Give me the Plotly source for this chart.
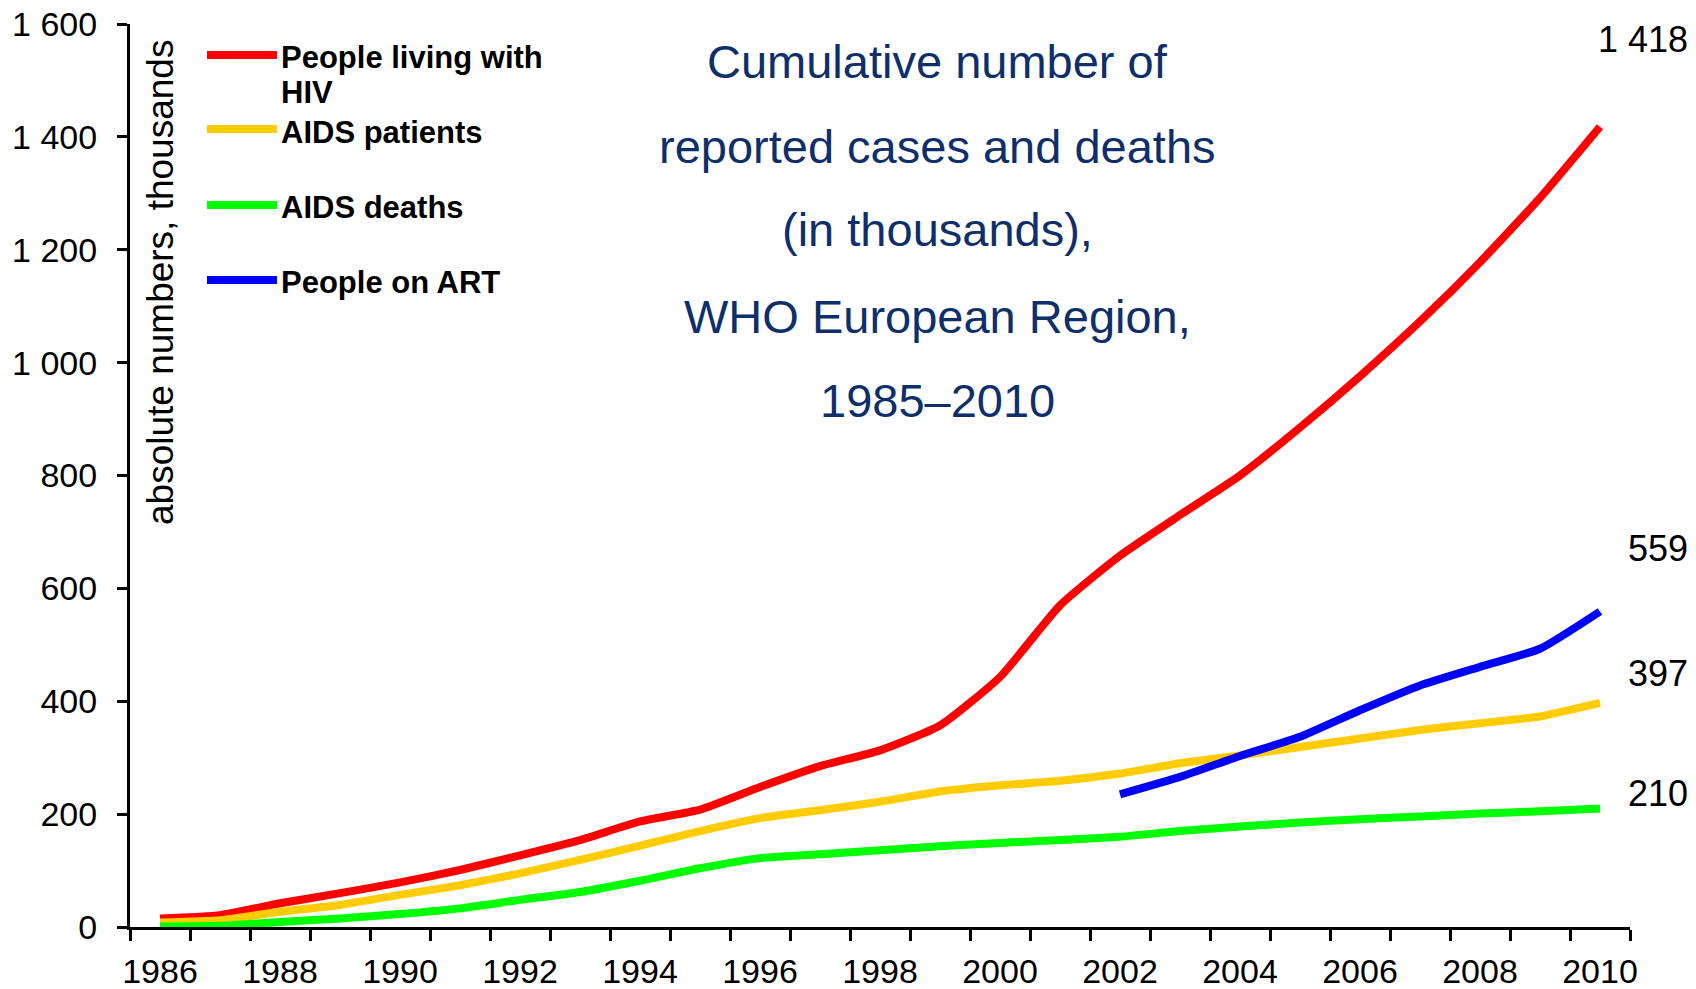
import plotly.graph_objects as go

# ---------------- data ----------------
years = list(range(1986, 2011))
hiv = [15, 21, 42, 60, 79, 101, 127, 154, 187, 208, 248, 285, 313, 357, 443,
       570, 658, 730, 800, 885, 976, 1073, 1178, 1292, 1418]
aids_patients = [8, 12, 27, 39, 57, 74, 95, 119, 144, 170, 193, 207, 222, 240, 251,
                 259, 272, 290, 304, 319, 334, 349, 361, 373, 397]
aids_deaths = [1, 2, 9, 15, 23, 33, 48, 62, 82, 104, 122, 129, 136, 143, 149,
               154, 160, 170, 178, 185, 191, 196, 201, 205, 210]
art_years = list(range(2002, 2011))
art = [235, 266, 303, 337, 384, 428, 461, 493, 559]

series_names = ["People living with HIV", "AIDS patients", "AIDS deaths", "People on ART"]
legend_labels = ["People living with<br>HIV", "AIDS patients", "AIDS deaths", "People on ART"]
colors = ["#FF0000", "#FFCC00", "#00FF00", "#0000FF"]

x_tick_years = [y for y in years if y % 2 == 0]
y_ticks = list(range(0, 1601, 200))
title_lines = ["Cumulative number of", "reported cases and deaths", "(in thousands),",
               "WHO European Region,", "1985\u20132010"]
y_title = "absolute numbers, thousands"

FONT = "Liberation Sans, Arial, Helvetica, sans-serif"
W, H = 1696, 989
L, R, T, B = 130, 1630, 24, 927  # plot area in pixels


def px(x):
    return (x - L) / (R - L)


def py(y):
    return (B - y) / (B - T)


def fmt(v):
    return f"{v:,}".replace(",", " ")


fig = go.Figure()
all_x = [years, years, years, art_years]
all_y = [hiv, aids_patients, aids_deaths, art]
for name, xs, ys, c in zip(series_names, all_x, all_y, colors):
    fig.add_trace(go.Scatter(x=xs, y=ys, name=name, mode="lines",
                             line=dict(color=c, width=8, shape="spline", smoothing=0.5),
                             showlegend=False))

annotations = []
# title
title_y = [62, 146, 230, 316, 400]
for t, yy in zip(title_lines, title_y):
    annotations.append(dict(text=t, xref="paper", yref="paper", x=px(937), y=py(yy),
                            xanchor="center", yanchor="middle", showarrow=False,
                            font=dict(family=FONT, size=47, color="#0F2F6B")))
# y axis title
annotations.append(dict(text=y_title, xref="paper", yref="paper", x=px(161), y=py(283),
                        xanchor="center", yanchor="middle", textangle=-90, showarrow=False,
                        font=dict(family=FONT, size=37, color="black")))
# end value labels
end_vals = [hiv[-1], art[-1], aids_patients[-1], aids_deaths[-1]]
end_y = [40, 549, 673, 793]
for v, yy in zip(end_vals, end_y):
    annotations.append(dict(text=fmt(v), xref="paper", yref="paper", x=px(1690), y=py(yy),
                            xanchor="right", yanchor="middle", showarrow=False,
                            font=dict(family=FONT, size=36, color="black")))
# custom legend
shapes = []
leg_y = [55, 129, 205, 280]
for lab, c, yy in zip(legend_labels, colors, leg_y):
    shapes.append(dict(type="line", xref="paper", yref="paper", x0=px(207), x1=px(277),
                       y0=py(yy), y1=py(yy), line=dict(color=c, width=8)))
    for i, part in enumerate(lab.split("<br>")):
        annotations.append(dict(text="<b>" + part + "</b>", xref="paper", yref="paper",
                                x=px(279), y=py(yy + 3 + 35 * i), xanchor="left",
                                yanchor="middle", showarrow=False,
                                font=dict(family=FONT, size=31, color="black")))

fig.update_layout(
    width=W, height=H,
    margin=dict(l=L, r=W - R, t=T, b=H - B, pad=0, autoexpand=False),
    paper_bgcolor="white", plot_bgcolor="white",
    font=dict(family=FONT, color="black"),
    showlegend=False,
    annotations=annotations,
    shapes=shapes,
    xaxis=dict(range=[years[0] - 0.5, years[-1] + 0.5], showgrid=False, zeroline=False,
               automargin=False,
               showline=True, linecolor="black", linewidth=3,
               tickmode="array", tickvals=x_tick_years, ticktext=[str(y) for y in x_tick_years],
               ticks="", tickfont=dict(family=FONT, size=34, color="black"),
               ticklabelstandoff=12,
               minor=dict(tickmode="array", tickvals=[y - 0.5 for y in years] + [years[-1] + 0.5],
                          ticks="outside", ticklen=11, tickwidth=3, tickcolor="black",
                          showgrid=False)),
    yaxis=dict(range=[0, 1600], showgrid=False, zeroline=False,
               automargin=False,
               showline=True, linecolor="black", linewidth=3,
               tickmode="array", tickvals=y_ticks, ticktext=[fmt(v) for v in y_ticks],
               ticks="outside", ticklen=10, tickwidth=3, tickcolor="black",
               tickfont=dict(family=FONT, size=34, color="black"),
               ticklabelstandoff=13),
)

fig.write_html("out.html")
